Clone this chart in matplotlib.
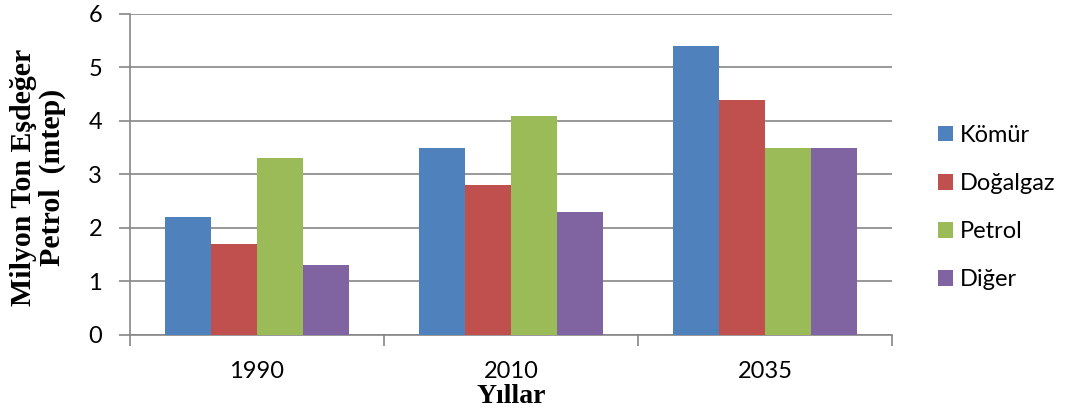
import matplotlib
matplotlib.use("Agg")
import matplotlib.pyplot as plt
import numpy as np

years = ["1990", "2010", "2035"]
series_names = ["Kömür", "Doğalgaz", "Petrol", "Diğer"]
komur = [2.2, 3.5, 5.4]
dogalgaz = [1.7, 2.8, 4.4]
petrol = [3.3, 4.1, 3.5]
diger = [1.3, 2.3, 3.5]
colors = ["#4F81BD", "#C0504D", "#9BBB59", "#8064A2"]

fig = plt.figure(figsize=(10.65, 4.15), dpi=100)
ax = fig.add_axes([0.122, 0.1928, 0.7156, 0.7735])

x = np.arange(len(years))
w = 0.181
for i, (vals, name, c) in enumerate(zip([komur, dogalgaz, petrol, diger], series_names, colors)):
    ax.bar(x + (i - 1.5) * w, vals, width=w, color=c, label=name, zorder=3)

ax.set_xlim(-0.5, 2.5)
ax.set_ylim(0, 6)
ax.set_yticks(range(0, 7))
ax.set_xticks(x)
ax.set_xticklabels(years)
ax.set_xticks([-0.5, 0.5, 1.5, 2.5], minor=True)
ax.tick_params(axis="x", which="major", length=0, pad=19)
ax.tick_params(axis="x", which="minor", length=8, color="#868686", width=1.2)
ax.tick_params(axis="y", length=8, color="#868686", width=1.2, pad=12)
for lab in ax.get_xticklabels() + ax.get_yticklabels():
    lab.set_fontfamily("Lato")
    lab.set_fontsize(17)
ax.grid(axis="y", color="#868686", linewidth=1.2, zorder=0)
for s in ["top", "right"]:
    ax.spines[s].set_visible(False)
for s in ["left", "bottom"]:
    ax.spines[s].set_color("#868686")
    ax.spines[s].set_linewidth(1.2)

ax.set_ylabel("Milyon Ton Eşdeğer\nPetrol  (mtep)", fontfamily="Liberation Serif",
              fontweight="bold", fontsize=21.5, linespacing=1.1)
ax.yaxis.label.set_va("center")
ax.yaxis.set_label_coords(-0.121, 0.49)
ax.set_xlabel("Yıllar", fontfamily="Liberation Serif", fontweight="bold", fontsize=20)
ax.xaxis.label.set_va("center")
ax.xaxis.set_label_coords(0.5, -0.193)

leg = ax.legend(loc="center left", bbox_to_anchor=(1.032, 0.397), frameon=False,
                prop={"family": "Lato", "size": 17}, labelspacing=1.15,
                handlelength=0.65, handleheight=0.65, handletextpad=0.3)

fig.savefig("out.png", dpi=100)
